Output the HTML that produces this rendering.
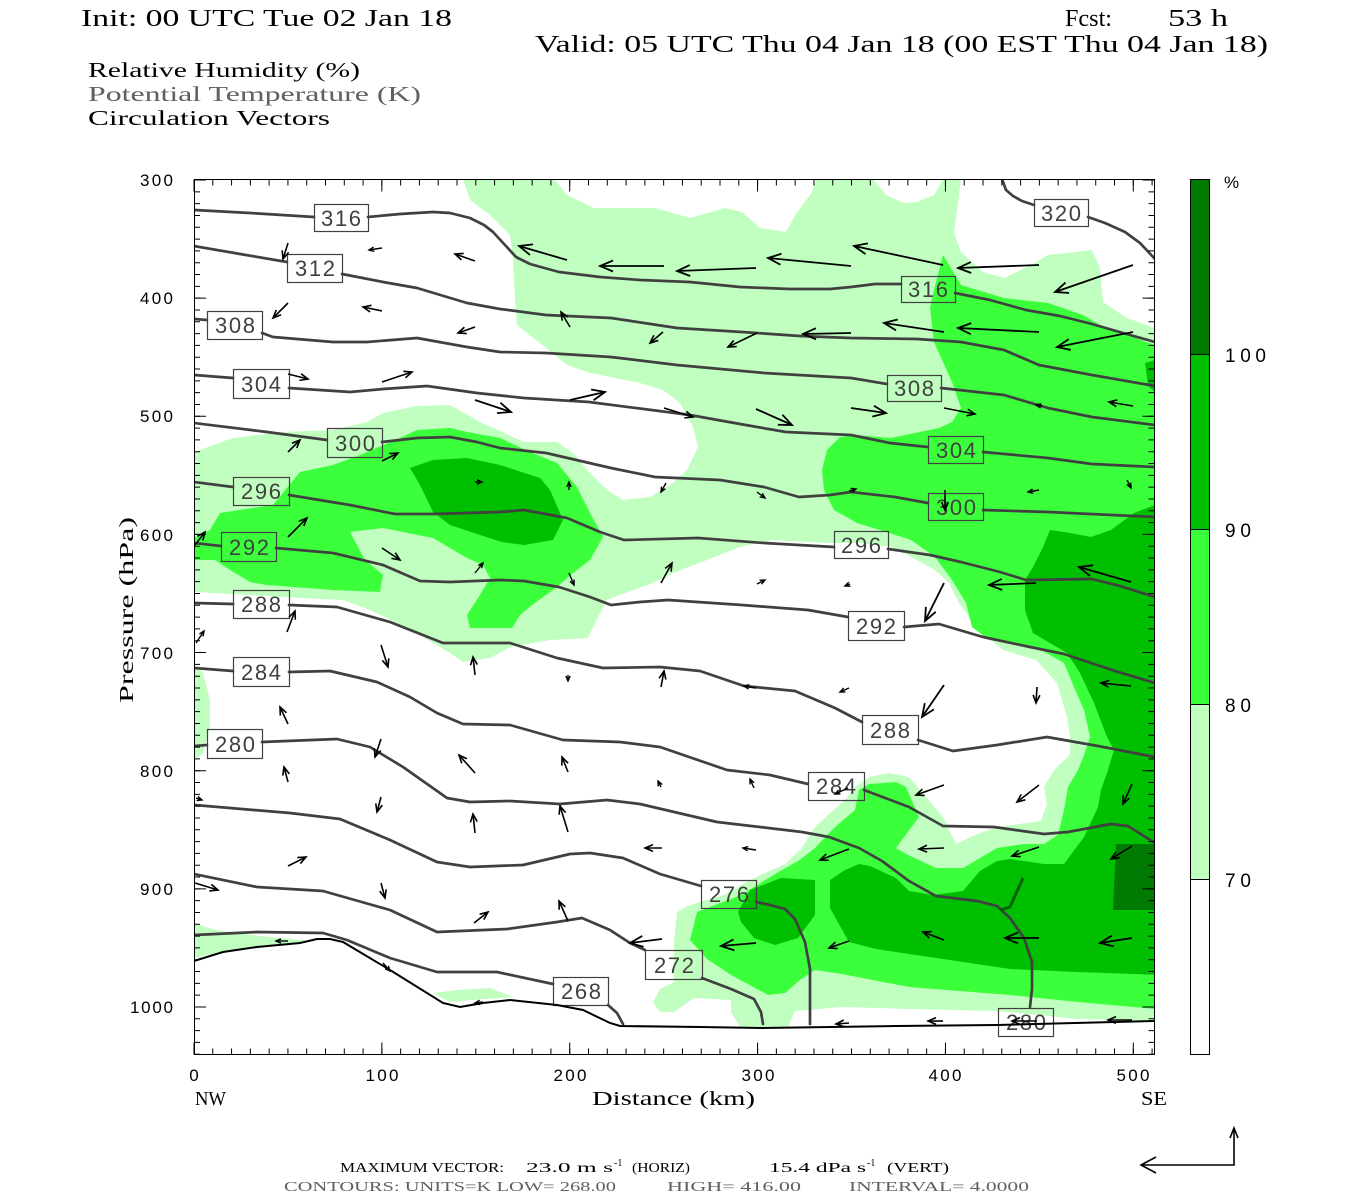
<!DOCTYPE html>
<html><head><meta charset="utf-8"><style>html,body{margin:0;padding:0;background:#fff}svg{display:block}</style></head>
<body>
<svg width="1350" height="1200" viewBox="0 0 1350 1200" xmlns="http://www.w3.org/2000/svg">
<defs>
<clipPath id="pc"><rect x="194.5" y="179.5" width="960" height="875"/></clipPath>
<marker id="L" markerUnits="userSpaceOnUse" markerWidth="16" markerHeight="16" viewBox="-14 -8 16 16" refX="0" refY="0" orient="auto"><path d="M-13,-5.5 L0,0 L-13,5.5" fill="none" stroke="#000" stroke-width="1.8"/></marker>
<marker id="M" markerUnits="userSpaceOnUse" markerWidth="16" markerHeight="16" viewBox="-14 -8 16 16" refX="0" refY="0" orient="auto"><path d="M-8,-3.4 L0,0 L-8,3.4" fill="none" stroke="#000" stroke-width="1.6"/></marker>
<marker id="S" markerUnits="userSpaceOnUse" markerWidth="16" markerHeight="16" viewBox="-14 -8 16 16" refX="0" refY="0" orient="auto"><path d="M-5,-2.2 L0,0 L-5,2.2" fill="none" stroke="#000" stroke-width="1.4"/></marker>
</defs>
<rect width="1350" height="1200" fill="#fff"/>

<!-- Header -->
<g font-family="Liberation Serif, serif" fill="#000">
<text x="81" y="26" font-size="24" textLength="371" lengthAdjust="spacingAndGlyphs">Init: 00 UTC Tue 02 Jan 18</text>
<text x="1065" y="26" font-size="24" textLength="47" lengthAdjust="spacingAndGlyphs">Fcst:</text>
<text x="1168" y="26" font-size="24" textLength="60" lengthAdjust="spacingAndGlyphs">53 h</text>
<text x="535" y="52" font-size="24" textLength="733" lengthAdjust="spacingAndGlyphs">Valid: 05 UTC Thu 04 Jan 18 (00 EST Thu 04 Jan 18)</text>
<text x="88" y="77" font-size="21" textLength="272" lengthAdjust="spacingAndGlyphs">Relative Humidity (%)</text>
<text x="88" y="101" font-size="21" fill="#606060" textLength="333" lengthAdjust="spacingAndGlyphs">Potential Temperature (K)</text>
<text x="88" y="125" font-size="21" textLength="242" lengthAdjust="spacingAndGlyphs">Circulation Vectors</text>
</g>

<!-- Plot fills -->
<g clip-path="url(#pc)">
<rect x="194" y="179" width="961" height="876" fill="#fff"/>
<polygon fill="#c0ffc0" points="463,179 554,179 567,195 594,208 655,208 690,218 725,208 742,212 760,228 786,232 795,215 812,192 816,179 873,179 886,195 904,203 917,202 934,195 943,179 961,179 954,232 961,252 983,272 1004,278 1031,265 1048,255 1092,250 1100,268 1103,302 1127,318 1155,328 1155,1021 1078,1019 997,1011 909,1009 842,1007 795,1011 788,1027 740,1027 731,1012 731,1000 694,998 674,1012 660,1012 653,1002 660,989 674,982 674,942 677,912 690,905 724,895 754,878 785,864 802,848 815,827 829,814 845,800 855,787 869,777 889,773 909,777 926,797 943,817 956,844 977,834 997,827 1041,821 1047,804 1044,787 1054,770 1070,755 1070,737 1067,717 1057,683 1036,660 1003,650 979,630 969,617 959,603 949,583 935,570 911,557 891,547 860,543 833,543 807,542 773,540 740,547 707,560 673,573 653,583 633,590 607,600 593,627 588,638 550,640 510,647 490,658 463,662 450,653 423,637 397,623 370,610 343,600 300,598 233,594 194,592 194,452 233,438 283,432 333,430 367,422 383,413 417,406 450,405 480,422 524,442 557,442 573,453 590,473 607,490 623,500 650,497 673,483 687,470 698,447 693,427 680,403 663,390 640,383 590,373 567,365 546,348 517,325 515,300 513,260 510,235 490,215 470,200"/>
<polygon fill="#c0ffc0" points="194,666 203,673 210,700 210,727 203,753 194,760"/>
<polygon fill="#c0ffc0" points="194,923 215,930 260,936 300,940 340,943 320,945 260,947 223,952 194,958"/>
<polygon fill="#c0ffc0" points="433,993 457,990 490,988 513,997 473,1000 450,1002"/>
<polygon fill="#3cff3c" points="194,538 210,530 220,513 273,505 300,472 333,465 360,455 400,438 417,430 450,428 467,432 500,438 530,452 557,463 577,487 590,513 603,537 590,560 573,573 553,590 532,605 520,615 512,628 470,628 467,615 478,598 490,578 483,565 467,558 433,538 383,528 350,532 365,560 383,575 380,592 333,590 267,585 250,582 230,570 215,560 194,560"/>
<polygon fill="#3cff3c" points="943,255 961,285 1004,298 1048,303 1083,315 1105,328 1127,335 1155,345 1155,1009 1078,1002 1010,995 909,987 842,974 815,970 800,980 785,993 768,995 731,975 707,959 690,940 697,912 741,895 775,874 798,861 815,848 835,827 855,810 859,790 869,784 896,782 906,787 919,817 896,848 906,854 936,868 963,868 997,848 1024,844 1044,844 1058,835 1064,810 1068,787 1078,770 1084,755 1090,737 1084,710 1074,687 1064,663 1036,647 989,640 972,627 966,603 952,580 935,557 911,540 880,530 857,523 834,510 824,490 822,470 827,450 840,437 856,435 891,438 939,428 952,422 961,408 952,382 943,362 934,342 930,308 934,290"/>
<polygon fill="#00be00" points="410,468 433,460 467,458 500,465 540,478 550,490 563,520 553,540 524,545 502,542 480,535 450,525 433,512 420,485"/>
<polygon fill="#00be00" points="1160,503 1134,513 1111,530 1091,537 1070,533 1050,530 1043,547 1033,567 1025,580 1025,610 1033,633 1067,653 1080,673 1094,703 1107,737 1114,750 1108,770 1101,790 1098,807 1084,837 1064,864 1044,864 1010,859 997,861 980,871 963,891 933,895 909,891 896,878 870,866 859,864 845,870 830,880 830,908 849,942 876,949 943,959 1010,969 1078,972 1160,975"/>
<polygon fill="#00be00" points="738,912 750,890 781,878 815,880 815,915 798,938 775,945 754,938 741,922"/>
<polygon fill="#00be00" points="1145,363 1155,360 1155,392 1148,386"/>
<polygon fill="#007a00" points="1116,844 1155,844 1155,910 1113,910"/>
<polygon fill="#fff" points="194,961 223,952 257,947 300,943 317,939 330,939 343,942 390,970 443,1003 460,1007 483,1003 510,1000 557,1005 583,1010 610,1023 620,1026 700,1027 761,1028 896,1026 997,1025 1155,1021 1155,1056 194,1056"/>

<!-- theta contours -->
<g fill="none" stroke="#404040" stroke-width="2.7" stroke-linejoin="round" stroke-linecap="round">
<polyline points="1002,179 1006,190 1013,196 1022,201 1034,205"/>
<polyline points="1088,217 1105,223 1125,232 1140,243 1155,259"/>
<polyline points="194,210 250,213 314,217"/>
<polyline points="368,217 400,214 433,212 450,213 470,218 484,225 493,232 505,245 516,257 530,264 559,272 600,277 640,280 690,282 740,287 790,289 830,289 851,287 875,284 901,284"/>
<polyline points="955,293 990,300 1026,310 1060,316 1092,324 1130,335 1155,342"/>
<polyline points="194,246 240,254 287,262"/>
<polyline points="342,274 383,282 417,288 467,303 500,309 546,315 611,318 677,328 742,332 800,336 851,338 917,339 961,342 1004,350 1039,365 1092,375 1155,386"/>
<polyline points="194,319 207,320"/>
<polyline points="262,333 273,337 333,342 367,342 417,338 467,347 500,352 546,353 611,357 677,365 764,373 851,378 887,384"/>
<polyline points="941,388 1004,395 1048,408 1092,417 1155,425"/>
<polyline points="194,375 233,378"/>
<polyline points="289,388 350,392 383,389 427,386 477,393 524,398 589,402 690,415 740,424 786,432 851,435 890,443 928,447"/>
<polyline points="983,452 1048,458 1092,464 1155,467"/>
<polyline points="194,423 267,432 327,440"/>
<polyline points="382,442 417,438 450,437 477,442 500,448 546,453 611,468 655,477 720,480 764,487 799,497 830,495 851,492 895,497 928,503"/>
<polyline points="983,510 1048,512 1155,517"/>
<polyline points="194,482 233,487"/>
<polyline points="289,495 350,505 395,514 433,514 500,512 524,510 567,518 600,532 624,540 698,538 764,543 834,547"/>
<polyline points="888,549 930,555 961,562 1000,572 1026,580 1092,579 1120,586 1155,597"/>
<polyline points="194,543 221,546"/>
<polyline points="276,548 333,553 383,565 420,581 450,582 500,580 524,581 559,587 590,597 611,605 640,602 668,600 742,605 808,610 848,617"/>
<polyline points="904,627 939,624 983,637 1030,647 1064,654 1115,671 1155,683"/>
<polyline points="194,603 233,604"/>
<polyline points="289,605 337,607 390,622 443,643 510,643 557,658 603,668 660,667 700,671 744,686 795,691 835,708 862,722"/>
<polyline points="918,740 953,751 997,745 1047,737 1098,746 1155,757"/>
<polyline points="194,668 233,671"/>
<polyline points="289,672 330,671 377,682 410,697 437,713 463,724 510,725 563,740 620,742 660,747 727,770 770,775 808,784"/>
<polyline points="864,790 909,807 943,826 994,827 1044,834 1068,832 1111,824 1128,826 1155,843"/>
<polyline points="194,746 207,745"/>
<polyline points="262,742 337,739 370,747 403,767 447,798 470,802 510,801 560,804 607,800 640,804 717,822 802,832 829,837 859,848 882,861 909,881 936,896 977,901 997,906 1010,918 1024,938 1032,962 1032,989 1030,1007"/>
<polyline points="194,805 290,813 340,819 390,840 437,862 470,867 523,865 570,854 590,853 623,858 660,874 701,886"/>
<polyline points="756,902 770,905 785,909 795,919 805,942 810,969 810,1024"/>
<polyline points="194,874 257,887 323,891 390,910 437,932 507,929 557,922 582,918 610,930 630,943 645,950"/>
<polyline points="702,978 731,989 754,999 761,1012 763,1024"/>
<polyline points="194,935 257,932 323,933 347,940 390,958 437,972 497,972 553,984"/>
<polyline points="608,1005 617,1013 623,1024"/>
</g>
<polyline points="1023,878 1010,907 1000,910" fill="none" stroke="#006400" stroke-width="3"/>

<!-- contour labels -->
<g fill="none" stroke="#404040" stroke-width="1.2">
<rect x="314.5" y="204.5" width="54" height="27"/>
<rect x="287.5" y="254.5" width="55" height="28"/>
<rect x="207.5" y="311.5" width="55" height="28"/>
<rect x="233.5" y="369.5" width="56" height="29"/>
<rect x="327.5" y="428.5" width="55" height="29"/>
<rect x="233.5" y="477.5" width="56" height="28"/>
<rect x="221.5" y="532.5" width="55" height="29"/>
<rect x="233.5" y="590.5" width="56" height="28"/>
<rect x="233.5" y="657.5" width="56" height="29"/>
<rect x="207.5" y="729.5" width="55" height="29"/>
<rect x="1034.5" y="199.5" width="54" height="27"/>
<rect x="901.5" y="276.5" width="54" height="26"/>
<rect x="887.5" y="375.5" width="54" height="26"/>
<rect x="928.5" y="436.5" width="55" height="27"/>
<rect x="928.5" y="493.5" width="55" height="27"/>
<rect x="834.5" y="531.5" width="54" height="27"/>
<rect x="848.5" y="611.5" width="56" height="29"/>
<rect x="862.5" y="715.5" width="56" height="29"/>
<rect x="808.5" y="772.5" width="56" height="28"/>
<rect x="701.5" y="880.5" width="55" height="28"/>
<rect x="645.5" y="950.5" width="57" height="29"/>
<rect x="553.5" y="977.5" width="55" height="28"/>
<rect x="998.5" y="1008.5" width="55" height="28"/>
</g>
<g font-family="Liberation Sans, sans-serif" font-size="22" fill="#404040" text-anchor="middle">
<text x="341" y="226" textLength="40">316</text>
<text x="315" y="276" textLength="40">312</text>
<text x="235" y="333" textLength="40">308</text>
<text x="261" y="392" textLength="40">304</text>
<text x="355" y="451" textLength="40">300</text>
<text x="261" y="499" textLength="40">296</text>
<text x="249" y="555" textLength="40">292</text>
<text x="261" y="612" textLength="40">288</text>
<text x="261" y="680" textLength="40">284</text>
<text x="235" y="752" textLength="40">280</text>
<text x="1061" y="221" textLength="40">320</text>
<text x="928" y="297" textLength="40">316</text>
<text x="914" y="396" textLength="40">308</text>
<text x="956" y="458" textLength="40">304</text>
<text x="956" y="515" textLength="40">300</text>
<text x="861" y="553" textLength="40">296</text>
<text x="876" y="634" textLength="40">292</text>
<text x="890" y="738" textLength="40">288</text>
<text x="836" y="794" textLength="40">284</text>
<text x="729" y="902" textLength="40">276</text>
<text x="674" y="973" textLength="40">272</text>
<text x="581" y="999" textLength="40">268</text>
<text x="1026" y="1030" textLength="40">280</text>
</g>

<!-- terrain -->
<polyline points="194,961 223,952 257,947 300,943 317,939 330,939 343,942 390,970 443,1003 460,1007 483,1003 510,1000 557,1005 583,1010 610,1023 620,1026 700,1027 761,1028 896,1026 997,1025 1155,1021" fill="none" stroke="#000" stroke-width="2"/>

<!-- vectors -->
<g stroke="#000" stroke-width="1.8" marker-end="url(#L)">
<line x1="567" y1="260" x2="519" y2="246"/>
<line x1="664" y1="266" x2="600" y2="266"/>
<line x1="756" y1="268" x2="677" y2="271"/>
<line x1="851" y1="266" x2="768" y2="258"/>
<line x1="943" y1="265" x2="854" y2="246"/>
<line x1="1039" y1="265" x2="958" y2="268"/>
<line x1="1133" y1="265" x2="1055" y2="292"/>
<line x1="851" y1="333" x2="803" y2="334"/>
<line x1="944" y1="332" x2="884" y2="323"/>
<line x1="1039" y1="332" x2="958" y2="328"/>
<line x1="1133" y1="332" x2="1057" y2="347"/>
<line x1="475" y1="400" x2="511" y2="412"/>
<line x1="570" y1="400" x2="605" y2="392"/>
<line x1="756" y1="409" x2="792" y2="425"/>
<line x1="851" y1="408" x2="886" y2="413"/>
<line x1="944" y1="583" x2="925" y2="621"/>
<line x1="1036" y1="583" x2="989" y2="585"/>
<line x1="1131" y1="582" x2="1079" y2="567"/>
<line x1="944" y1="685" x2="922" y2="717"/>
<line x1="662" y1="939" x2="630" y2="943"/>
<line x1="756" y1="943" x2="721" y2="946"/>
<line x1="1039" y1="938" x2="1005" y2="938"/>
<line x1="1132" y1="938" x2="1100" y2="943"/>
</g>
<g stroke="#000" stroke-width="1.6" marker-end="url(#M)">
<line x1="288" y1="243" x2="283" y2="259"/>
<line x1="475" y1="261" x2="455" y2="254"/>
<line x1="288" y1="303" x2="273" y2="318"/>
<line x1="382" y1="311" x2="363" y2="307"/>
<line x1="475" y1="327" x2="458" y2="333"/>
<line x1="570" y1="327" x2="561" y2="312"/>
<line x1="663" y1="332" x2="650" y2="343"/>
<line x1="757" y1="333" x2="728" y2="347"/>
<line x1="288" y1="374" x2="308" y2="379"/>
<line x1="382" y1="382" x2="412" y2="372"/>
<line x1="664" y1="408" x2="693" y2="417"/>
<line x1="944" y1="408" x2="975" y2="414"/>
<line x1="1133" y1="406" x2="1109" y2="402"/>
<line x1="288" y1="452" x2="300" y2="440"/>
<line x1="382" y1="461" x2="398" y2="453"/>
<line x1="945" y1="490" x2="945" y2="510"/>
<line x1="195" y1="545" x2="205" y2="532"/>
<line x1="288" y1="537" x2="307" y2="518"/>
<line x1="382" y1="548" x2="400" y2="560"/>
<line x1="661" y1="583" x2="672" y2="563"/>
<line x1="287" y1="632" x2="295" y2="611"/>
<line x1="381" y1="645" x2="388" y2="667"/>
<line x1="475" y1="675" x2="473" y2="657"/>
<line x1="661" y1="687" x2="664" y2="671"/>
<line x1="1037" y1="687" x2="1036" y2="703"/>
<line x1="1131" y1="686" x2="1101" y2="683"/>
<line x1="288" y1="724" x2="280" y2="707"/>
<line x1="381" y1="739" x2="375" y2="757"/>
<line x1="475" y1="773" x2="459" y2="755"/>
<line x1="568" y1="772" x2="562" y2="757"/>
<line x1="944" y1="785" x2="916" y2="795"/>
<line x1="1039" y1="785" x2="1017" y2="802"/>
<line x1="1132" y1="784" x2="1123" y2="804"/>
<line x1="288" y1="782" x2="284" y2="767"/>
<line x1="381" y1="797" x2="377" y2="812"/>
<line x1="475" y1="833" x2="473" y2="814"/>
<line x1="568" y1="832" x2="560" y2="806"/>
<line x1="662" y1="848" x2="645" y2="848"/>
<line x1="849" y1="849" x2="820" y2="860"/>
<line x1="944" y1="848" x2="919" y2="849"/>
<line x1="1039" y1="847" x2="1012" y2="856"/>
<line x1="1132" y1="846" x2="1111" y2="859"/>
<line x1="288" y1="866" x2="306" y2="857"/>
<line x1="381" y1="883" x2="385" y2="898"/>
<line x1="474" y1="923" x2="488" y2="912"/>
<line x1="568" y1="921" x2="559" y2="901"/>
<line x1="849" y1="941" x2="829" y2="948"/>
<line x1="944" y1="940" x2="923" y2="932"/>
<line x1="195" y1="883" x2="218" y2="890"/>
<line x1="849" y1="1023" x2="836" y2="1024"/>
<line x1="943" y1="1021" x2="928" y2="1021"/>
<line x1="1037" y1="1021" x2="1012" y2="1021"/>
<line x1="1132" y1="1020" x2="1108" y2="1020"/>
</g>
<g stroke="#000" stroke-width="1.4" marker-end="url(#S)">
<line x1="382" y1="248" x2="369" y2="250"/>
<line x1="1042" y1="406" x2="1036" y2="405"/>
<line x1="475" y1="482" x2="482" y2="482"/>
<line x1="569" y1="490" x2="569" y2="482"/>
<line x1="666" y1="483" x2="661" y2="492"/>
<line x1="757" y1="492" x2="765" y2="498"/>
<line x1="849" y1="491" x2="856" y2="489"/>
<line x1="1039" y1="490" x2="1028" y2="492"/>
<line x1="1127" y1="480" x2="1131" y2="488"/>
<line x1="475" y1="573" x2="483" y2="563"/>
<line x1="569" y1="573" x2="574" y2="585"/>
<line x1="757" y1="584" x2="765" y2="580"/>
<line x1="850" y1="584" x2="845" y2="586"/>
<line x1="196" y1="643" x2="204" y2="631"/>
<line x1="568" y1="675" x2="568" y2="681"/>
<line x1="756" y1="688" x2="744" y2="686"/>
<line x1="849" y1="688" x2="840" y2="692"/>
<line x1="661" y1="787" x2="658" y2="781"/>
<line x1="754" y1="788" x2="750" y2="779"/>
<line x1="848" y1="788" x2="835" y2="794"/>
<line x1="756" y1="850" x2="743" y2="848"/>
<line x1="196" y1="798" x2="202" y2="800"/>
<line x1="288" y1="941" x2="276" y2="941"/>
<line x1="383" y1="963" x2="390" y2="971"/>
<line x1="483" y1="1002" x2="475" y2="1003"/>
</g>
</g>

<!-- frame and ticks -->
<rect x="194.5" y="179.5" width="960" height="875" fill="none" stroke="#000" stroke-width="1"/>
<g stroke="#000" fill="none">
<line x1="197" y1="179.5" x2="197" y2="1054" stroke-width="6" stroke-dasharray="1 10.814"/>
<line x1="200" y1="179.5" x2="200" y2="1054" stroke-width="12" stroke-dasharray="1 117.14"/>
<line x1="1151.5" y1="179.5" x2="1151.5" y2="1054" stroke-width="6" stroke-dasharray="1 10.814"/>
<line x1="1148.5" y1="179.5" x2="1148.5" y2="1054" stroke-width="12" stroke-dasharray="1 117.14"/>
<line x1="193.5" y1="1051.5" x2="1155" y2="1051.5" stroke-width="6" stroke-dasharray="1 17.786"/>
<line x1="193.5" y1="1048.5" x2="1155" y2="1048.5" stroke-width="12" stroke-dasharray="1 186.86"/>
<line x1="193.5" y1="182.5" x2="1155" y2="182.5" stroke-width="6" stroke-dasharray="1 17.786"/>
<line x1="193.5" y1="185.5" x2="1155" y2="185.5" stroke-width="12" stroke-dasharray="1 186.86"/>
</g>

<!-- axis labels -->
<g font-family="Liberation Sans, sans-serif" font-size="17" fill="#000" text-anchor="end">
<text x="173" y="186" textLength="33">300</text>
<text x="173" y="304" textLength="33">400</text>
<text x="173" y="422" textLength="33">500</text>
<text x="173" y="541" textLength="33">600</text>
<text x="173" y="659" textLength="33">700</text>
<text x="173" y="777" textLength="33">800</text>
<text x="173" y="895" textLength="33">900</text>
<text x="173" y="1013" textLength="43">1000</text>
</g>
<g font-family="Liberation Sans, sans-serif" font-size="17" fill="#000" text-anchor="middle">
<text x="194" y="1081">0</text>
<text x="382" y="1081" textLength="33">100</text>
<text x="570" y="1081" textLength="33">200</text>
<text x="758" y="1081" textLength="33">300</text>
<text x="945" y="1081" textLength="33">400</text>
<text x="1133" y="1081" textLength="33">500</text>
</g>
<g font-family="Liberation Serif, serif" font-size="20" fill="#000">
<text x="195" y="1105" textLength="31" lengthAdjust="spacingAndGlyphs">NW</text>
<text x="592" y="1105" textLength="163" lengthAdjust="spacingAndGlyphs">Distance (km)</text>
<text x="1141" y="1105" textLength="26" lengthAdjust="spacingAndGlyphs">SE</text>
<text transform="translate(133,703) rotate(-90)" textLength="186" lengthAdjust="spacingAndGlyphs">Pressure (hPa)</text>
</g>

<!-- colorbar -->
<rect x="1190.5" y="179.5" width="19" height="175" fill="#007a00"/>
<rect x="1190.5" y="354.5" width="19" height="175" fill="#00be00"/>
<rect x="1190.5" y="529.5" width="19" height="175" fill="#3cff3c"/>
<rect x="1190.5" y="704.5" width="19" height="175" fill="#c0ffc0"/>
<rect x="1190.5" y="879.5" width="19" height="175" fill="#fff"/>
<g stroke="#000" stroke-width="1">
<line x1="1190.5" y1="354.5" x2="1209.5" y2="354.5"/>
<line x1="1190.5" y1="529.5" x2="1209.5" y2="529.5"/>
<line x1="1190.5" y1="704.5" x2="1209.5" y2="704.5"/>
<line x1="1190.5" y1="879.5" x2="1209.5" y2="879.5"/>
</g>
<rect x="1190.5" y="179.5" width="19" height="875" fill="none" stroke="#000" stroke-width="1"/>
<g font-family="Liberation Sans, sans-serif" font-size="19" fill="#000">
<text x="1224" y="188" font-size="17">%</text>
<text x="1225" y="362" textLength="41">100</text>
<text x="1225" y="537" textLength="26">90</text>
<text x="1225" y="712" textLength="26">80</text>
<text x="1225" y="887" textLength="26">70</text>
</g>

<!-- bottom info -->
<g font-family="Liberation Serif, serif" font-size="14" fill="#000">
<text x="340" y="1172" textLength="164" lengthAdjust="spacingAndGlyphs">MAXIMUM VECTOR:</text>
<text x="526" y="1172" textLength="87" lengthAdjust="spacingAndGlyphs">23.0 m s</text>
<text x="614" y="1166" font-size="10">-1</text>
<text x="632" y="1172" textLength="58" lengthAdjust="spacingAndGlyphs">(HORIZ)</text>
<text x="769" y="1172" textLength="97" lengthAdjust="spacingAndGlyphs">15.4 dPa s</text>
<text x="867" y="1166" font-size="10">-1</text>
<text x="887" y="1172" textLength="62" lengthAdjust="spacingAndGlyphs">(VERT)</text>
</g>
<g font-family="Liberation Serif, serif" font-size="14" fill="#606060">
<text x="284" y="1191" textLength="332" lengthAdjust="spacingAndGlyphs">CONTOURS:  UNITS=K  LOW=  268.00</text>
<text x="667" y="1191" textLength="134" lengthAdjust="spacingAndGlyphs">HIGH=  416.00</text>
<text x="849" y="1191" textLength="180" lengthAdjust="spacingAndGlyphs">INTERVAL=    4.0000</text>
</g>
<g stroke="#000" stroke-width="1.6" fill="none">
<polyline points="1234,1128 1234,1165 1141,1165"/>
<polyline points="1156,1157 1141,1165 1156,1173"/>
<polyline points="1230,1138 1234,1128 1238,1138"/>
</g>
</svg>
</body></html>
